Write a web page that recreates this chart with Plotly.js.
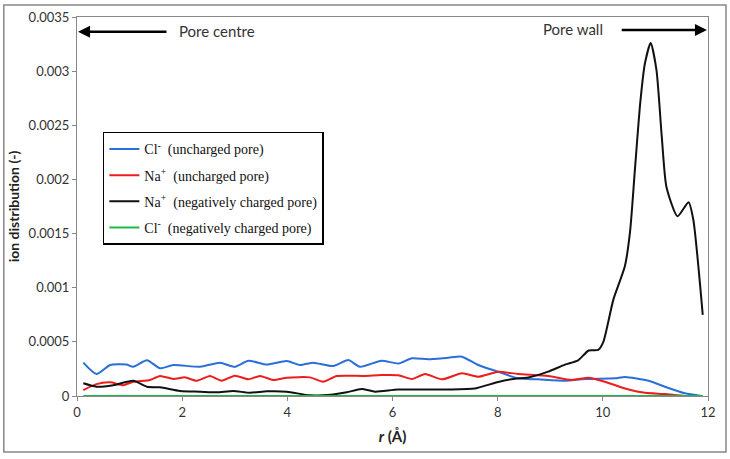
<!DOCTYPE html>
<html>
<head>
<meta charset="utf-8">
<script src="https://cdn.plot.ly/plotly-3.0.1.min.js"></script>
<style>
  html, body { margin: 0; padding: 0; background: #fff; }
  #chart { width: 730px; height: 459px; }
</style>
</head>
<body>
<div id="chart"></div>
<script>
// r (Å) and ion distribution values
const clUnchargedR = [0.12, 0.37, 0.63, 0.94, 1.07, 1.33, 1.58, 1.83, 2.34, 2.72, 3.0, 3.26, 3.61, 3.99, 4.24, 4.49, 4.87, 5.16, 5.38, 5.79, 6.11, 6.37, 6.68, 7.06, 7.32, 7.63, 8.01, 8.39, 8.77, 9.28, 9.66, 10.23, 10.42, 10.87, 11.18, 11.56, 11.88];
const clUnchargedVal = [0.000308, 0.000203, 0.000286, 0.00029, 0.00027, 0.00033, 0.000256, 0.000286, 0.00027, 0.000308, 0.00027, 0.000326, 0.00029, 0.000323, 0.000286, 0.000308, 0.000277, 0.000332, 0.00027, 0.000326, 0.0003, 0.000348, 0.000339, 0.000354, 0.000363, 0.000286, 0.000224, 0.000163, 0.000154, 0.000141, 0.000157, 0.000163, 0.000175, 0.000141, 0.000086, 0.000025, 0.0];

const naUnchargedR = [0.12, 0.37, 0.63, 0.88, 1.07, 1.39, 1.58, 1.83, 2.05, 2.28, 2.53, 2.75, 3.0, 3.26, 3.48, 3.73, 3.99, 4.43, 4.68, 4.94, 5.45, 5.79, 6.11, 6.37, 6.62, 6.94, 7.32, 7.63, 8.01, 8.39, 8.96, 9.41, 9.73, 10.04, 10.49, 10.8, 11.18, 11.56, 11.88];
const naUnchargedVal = [0.000055, 0.00011, 0.000126, 0.0001, 0.000132, 0.000148, 0.000185, 0.000157, 0.000172, 0.000141, 0.000185, 0.000141, 0.000188, 0.000154, 0.000185, 0.000148, 0.000169, 0.000172, 0.000132, 0.000185, 0.000185, 0.000194, 0.000192, 0.000157, 0.000203, 0.000154, 0.00021, 0.000178, 0.000224, 0.000203, 0.000185, 0.000148, 0.000169, 0.000132, 0.00006, 0.00003, 0.000018, 0.0, 0.0];

const naChargedR = [0.12, 0.37, 0.69, 1.07, 1.33, 1.58, 1.96, 2.34, 2.66, 2.97, 3.29, 3.61, 3.99, 4.43, 4.87, 5.13, 5.41, 5.67, 6.11, 7.06, 7.57, 8.01, 8.33, 8.58, 8.96, 9.28, 9.53, 9.73, 9.91, 10.01, 10.2, 10.42, 10.52, 10.61, 10.71, 10.8, 10.91, 11.02, 11.12, 11.21, 11.42, 11.63, 11.72, 11.9];
const naChargedVal = [0.000117, 0.000086, 0.0001, 0.00014, 0.000086, 0.00008, 0.000046, 0.00004, 0.000034, 0.000046, 0.00003, 0.000043, 0.00004, 0.000006, 0.000015, 0.000034, 0.000065, 0.00004, 0.00006, 0.00006, 0.00007, 0.00013, 0.00016, 0.00017, 0.000225, 0.00029, 0.00033, 0.00042, 0.000425, 0.0005, 0.00089, 0.0012, 0.00153, 0.00209, 0.0027, 0.00307, 0.00326, 0.00301, 0.0024, 0.00193, 0.00166, 0.00179, 0.00163, 0.00075];

const clChargedR = [0.12, 2, 4, 6, 8, 10, 11.9];
const clChargedVal = [0, 0, 0, 0, 0, 0, 0];

const seriesNames = [
  'Cl<sup>-</sup>  (uncharged pore)',
  'Na<sup>+</sup>  (uncharged pore)',
  'Na<sup>+</sup>  (negatively charged pore)',
  'Cl<sup>-</sup>  (negatively charged pore)'
];
const seriesColors = ['#2a6fd8', '#ee1c1c', '#111111', '#1fb84a'];

const yTickVals = [0, 0.0005, 0.001, 0.0015, 0.002, 0.0025, 0.003, 0.0035];
const yTickText = ['0', '0.0005', '0.001', '0.0015', '0.002', '0.0025', '0.003', '0.0035'];
const xTickVals = [0, 2, 4, 6, 8, 10, 12];

const xs = [clUnchargedR, naUnchargedR, naChargedR, clChargedR];
const ys = [clUnchargedVal, naUnchargedVal, naChargedVal, clChargedVal];

const traces = xs.map((x, i) => ({
  x: x,
  y: ys[i],
  type: 'scatter',
  mode: 'lines',
  name: seriesNames[i],
  legendgroup: 'g' + i,
  line: { color: seriesColors[i], width: 2, shape: 'spline', smoothing: 0.6 },
  hoverinfo: 'skip'
}));

const tickFont = { family: 'Lato, "Open Sans", sans-serif', size: 13, color: '#333' };

const layout = {
  width: 730,
  height: 459,
  margin: { l: 77, r: 22, t: 17, b: 63 },
  paper_bgcolor: '#fff',
  plot_bgcolor: '#fff',
  showlegend: true,
  legend: {
    x: 0.041, y: 0.697, xanchor: 'left', yanchor: 'top',
    bordercolor: '#000', borderwidth: 1.5, bgcolor: '#fff',
    font: { family: '"Liberation Serif", "Times New Roman", serif', size: 14, color: '#111' },
    traceorder: 'grouped',
    tracegroupgap: 5,
    itemwidth: 30
  },
  xaxis: {
    range: [0, 12],
    tickvals: xTickVals,
    ticks: 'outside', ticklen: 4, tickcolor: '#888',
    showline: true, linecolor: '#888', linewidth: 1, mirror: true,
    showgrid: false, zeroline: false,
    tickfont: tickFont,
    title: { text: '<i>r</i> (Å)', font: { family: 'Lato, "Open Sans", sans-serif', size: 15, color: '#222', weight: 'bold' }, standoff: 12 }
  },
  yaxis: {
    range: [0, 0.0035],
    tickvals: yTickVals,
    ticktext: yTickText,
    ticks: 'outside', ticklen: 4, tickcolor: '#888',
    showline: true, linecolor: '#888', linewidth: 1, mirror: true,
    showgrid: false, zeroline: false,
    tickfont: tickFont,
    title: { text: 'ion distribution (-)', font: { family: 'Lato, "Open Sans", sans-serif', size: 14, color: '#222', weight: 'bold' }, standoff: 5 }
  },
  shapes: [{
    type: 'rect', xref: 'paper', yref: 'paper',
    x0: -0.116, x1: 1.0285, y0: -0.1478, y1: 1.0317,
    line: { color: '#888', width: 1.5 }
  }],
  annotations: [
    {
      x: 0.02, y: 0.003364, ax: 1.73, ay: 0.003364, axref: 'x', ayref: 'y',
      xref: 'x', yref: 'y', text: '', showarrow: true,
      arrowhead: 2, arrowsize: 1, arrowwidth: 2.4, arrowcolor: '#000'
    },
    {
      x: 1.9, y: 0.003375, xref: 'x', yref: 'y', xanchor: 'left', yanchor: 'middle',
      text: 'Pore centre', showarrow: false,
      font: { family: 'Lato, "Open Sans", sans-serif', size: 15, color: '#333' }
    },
    {
      x: 11.98, y: 0.00338, ax: 10.33, ay: 0.00338, axref: 'x', ayref: 'y',
      xref: 'x', yref: 'y', text: '', showarrow: true,
      arrowhead: 2, arrowsize: 1, arrowwidth: 2.4, arrowcolor: '#000'
    },
    {
      x: 10.04, y: 0.00339, xref: 'x', yref: 'y', xanchor: 'right', yanchor: 'middle',
      text: 'Pore wall', showarrow: false,
      font: { family: 'Lato, "Open Sans", sans-serif', size: 15, color: '#333' }
    }
  ]
};

Plotly.newPlot('chart', traces, layout, { staticPlot: true, displayModeBar: false });
</script>
</body>
</html>
